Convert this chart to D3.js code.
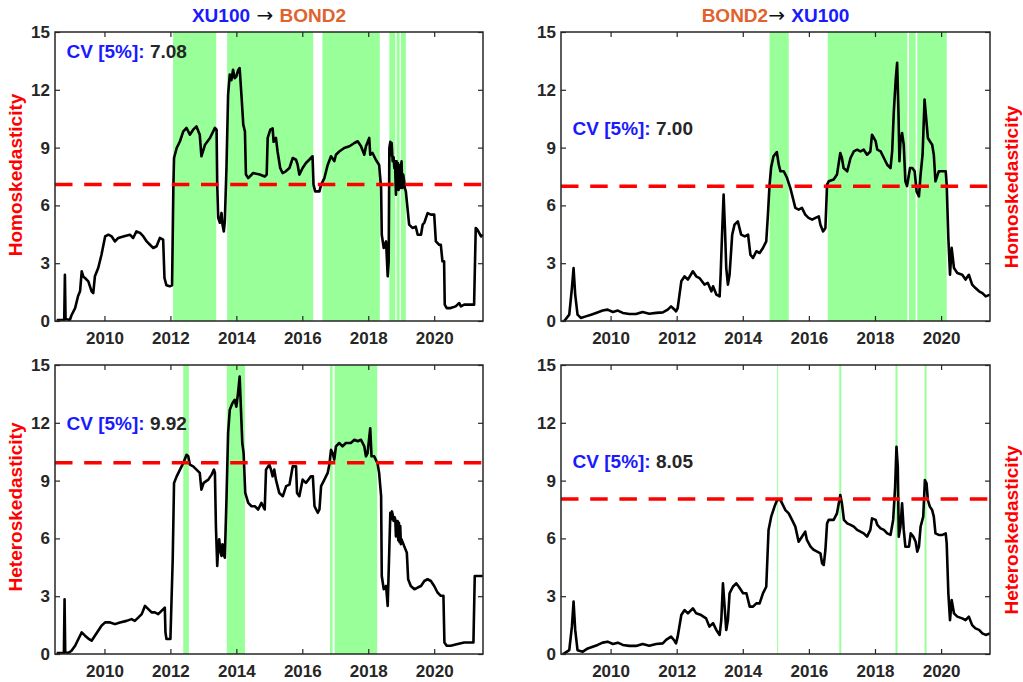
<!DOCTYPE html>
<html>
<head>
<meta charset="utf-8">
<script src="https://cdn.jsdelivr.net/npm/d3@7"></script>
<style>
  body { margin: 0; background: #fff; }
  svg text { font-family: "Liberation Sans", Arial, Helvetica, sans-serif; font-weight: bold; }
</style>
</head>
<body>
<svg id="chart" width="1023" height="682"></svg>
<script>
// ---- Test statistic paths (x: decimal year, y: statistic) ----

// Homoskedastic statistic, XU100 -> BOND2
const homoXuBondYears = [2008.55,2008.78,2008.80,2008.82,2008.95,2009.0,2009.11,2009.2,2009.26,2009.31,2009.36,2009.41,2009.51,2009.61,2009.66,2009.71,2009.81,2009.91,2010.02,2010.12,2010.22,2010.32,2010.42,2010.57,2010.77,2010.87,2010.97,2011.08,2011.18,2011.28,2011.38,2011.48,2011.58,2011.68,2011.78,2011.82,2011.88,2011.98,2012.05,2012.09,2012.11,2012.19,2012.29,2012.39,2012.49,2012.59,2012.69,2012.79,2012.89,2012.94,2013.05,2013.2,2013.35,2013.4,2013.42,2013.45,2013.5,2013.55,2013.58,2013.62,2013.65,2013.7,2013.75,2013.8,2013.85,2013.9,2013.95,2014.0,2014.05,2014.1,2014.16,2014.21,2014.26,2014.29,2014.36,2014.51,2014.71,2014.86,2014.92,2014.95,2015.03,2015.1,2015.13,2015.2,2015.25,2015.33,2015.4,2015.5,2015.61,2015.71,2015.81,2015.86,2015.91,2016.01,2016.11,2016.21,2016.31,2016.34,2016.39,2016.52,2016.57,2016.67,2016.77,2016.87,2016.97,2017.02,2017.12,2017.27,2017.43,2017.58,2017.68,2017.78,2017.88,2017.93,2018.03,2018.06,2018.13,2018.23,2018.33,2018.39,2018.41,2018.47,2018.54,2018.59,2018.62,2018.64,2018.67,2018.69,2018.71,2018.74,2018.77,2018.79,2018.81,2018.84,2018.86,2018.88,2018.9,2018.92,2018.94,2018.97,2018.99,2019.01,2019.03,2019.04,2019.06,2019.09,2019.11,2019.14,2019.19,2019.24,2019.34,2019.44,2019.5,2019.6,2019.65,2019.7,2019.8,2019.9,2020.0,2020.05,2020.15,2020.2,2020.25,2020.3,2020.32,2020.38,2020.5,2020.65,2020.76,2020.81,2020.91,2021.16,2021.21,2021.26,2021.31,2021.42,2021.48];
const homoXuBondValues = [0.05,0.05,2.4,0.1,0.05,0.3,0.67,1.3,1.54,2.58,2.3,2.23,2.06,1.54,1.45,2.32,2.75,3.44,4.39,4.48,4.39,4.13,4.31,4.39,4.48,4.31,4.65,4.57,4.39,4.13,3.96,3.79,3.88,4.31,4.22,2.23,1.85,1.8,1.85,7.0,8.46,8.98,9.33,9.84,10.02,9.67,9.93,10.1,9.67,8.55,9.15,9.5,10.02,9.93,7.08,5.35,5.1,5.61,5.0,4.65,5.17,7.94,11.75,12.79,12.5,13.04,12.6,12.7,13.0,13.13,11.57,10.19,9.84,7.6,7.42,7.68,7.6,7.5,7.6,9.5,9.93,10.0,9.3,9.5,8.8,7.94,7.68,7.77,7.94,8.46,8.37,8.1,7.6,7.94,8.2,8.37,8.55,7.08,6.73,6.73,7.08,7.42,8.1,8.55,8.3,8.63,8.8,8.98,9.07,9.24,9.33,9.07,8.63,9.07,9.5,8.63,8.72,8.37,8.1,6.9,4.48,3.79,4.13,2.32,3.1,8.98,9.3,8.6,9.24,8.29,8.5,7.94,8.3,6.56,8.29,7.0,8.2,6.8,8.1,6.9,8.0,8.29,6.9,7.08,7.6,7.25,6.9,6.73,5.87,5.0,4.83,4.9,4.48,4.48,5.0,5.1,5.6,5.52,5.52,4.13,3.96,3.96,3.1,3.1,0.85,0.67,0.67,0.76,0.93,0.76,0.85,0.85,0.85,4.83,4.74,4.39,4.48];

// Homoskedastic statistic, BOND2 -> XU100
const homoBondXuYears = [2008.55,2008.6,2008.75,2008.83,2008.88,2008.93,2009.0,2009.1,2009.25,2009.41,2009.56,2009.76,2009.91,2010.07,2010.22,2010.37,2010.57,2010.77,2010.97,2011.17,2011.38,2011.58,2011.73,2011.83,2011.93,2011.98,2012.03,2012.14,2012.24,2012.34,2012.49,2012.59,2012.69,2012.84,2012.94,2013.05,2013.1,2013.2,2013.3,2013.33,2013.38,2013.42,2013.46,2013.5,2013.55,2013.6,2013.68,2013.75,2013.85,2013.95,2014.06,2014.16,2014.23,2014.31,2014.41,2014.51,2014.61,2014.71,2014.76,2014.81,2014.86,2014.93,2015.03,2015.09,2015.14,2015.24,2015.34,2015.44,2015.49,2015.59,2015.69,2015.79,2015.89,2015.99,2016.1,2016.2,2016.3,2016.35,2016.43,2016.5,2016.55,2016.6,2016.75,2016.85,2016.95,2017.0,2017.05,2017.16,2017.26,2017.36,2017.46,2017.56,2017.66,2017.76,2017.86,2017.91,2018.02,2018.07,2018.17,2018.27,2018.37,2018.47,2018.52,2018.57,2018.63,2018.67,2018.71,2018.74,2018.77,2018.82,2018.87,2018.92,2018.97,2019.06,2019.13,2019.2,2019.26,2019.33,2019.38,2019.44,2019.5,2019.54,2019.6,2019.66,2019.73,2019.78,2019.83,2019.93,2020.04,2020.14,2020.17,2020.22,2020.27,2020.32,2020.39,2020.49,2020.64,2020.74,2020.84,2020.94,2021.04,2021.15,2021.25,2021.35,2021.48];
const homoBondXuValues = [0.0,0.0,0.33,1.7,2.75,1.37,0.33,0.16,0.24,0.33,0.42,0.54,0.59,0.47,0.54,0.42,0.36,0.36,0.47,0.38,0.42,0.45,0.59,0.76,0.6,0.5,0.67,2.06,2.32,2.15,2.58,2.32,2.23,1.89,1.98,1.54,1.8,1.37,1.28,2.4,4.83,6.56,4.83,2.75,1.89,2.4,4.48,5.0,5.17,4.48,4.39,4.48,3.44,3.27,3.62,3.53,3.79,4.13,5.5,7.08,8.0,8.55,8.77,8.1,7.77,7.77,7.42,6.9,6.56,5.87,5.78,5.87,5.52,5.35,5.26,5.35,5.43,5.0,4.65,4.83,7.08,7.25,7.34,7.6,8.72,8.46,7.94,7.77,8.46,8.8,8.89,8.8,8.89,8.63,8.8,9.67,9.33,8.89,8.8,8.46,8.11,7.94,8.8,10.88,12.6,13.4,10.88,8.29,9.33,9.76,9.15,7.25,7.0,7.94,7.94,7.77,6.73,6.47,7.6,8.63,11.49,10.7,9.5,9.33,9.15,8.63,7.25,7.77,7.77,7.77,7.08,4.3,2.4,3.8,2.75,2.49,2.4,2.15,2.4,1.89,1.71,1.54,1.45,1.28,1.37];

// Heteroskedastic statistic, XU100 -> BOND2
const heteroXuBondYears = [2008.55,2008.77,2008.79,2008.81,2008.9,2009.0,2009.11,2009.21,2009.31,2009.41,2009.51,2009.61,2009.71,2009.81,2009.91,2010.02,2010.17,2010.32,2010.47,2010.67,2010.82,2010.92,2011.03,2011.13,2011.23,2011.33,2011.43,2011.53,2011.63,2011.73,2011.83,2011.85,2011.88,2012.0,2012.07,2012.11,2012.19,2012.29,2012.39,2012.49,2012.54,2012.59,2012.69,2012.79,2012.89,2012.94,2013.01,2013.15,2013.25,2013.32,2013.35,2013.38,2013.42,2013.45,2013.48,2013.52,2013.55,2013.58,2013.6,2013.63,2013.65,2013.7,2013.75,2013.8,2013.88,2013.95,2014.0,2014.05,2014.1,2014.14,2014.18,2014.22,2014.27,2014.36,2014.46,2014.56,2014.66,2014.76,2014.86,2014.9,2015.0,2015.05,2015.1,2015.15,2015.2,2015.3,2015.41,2015.51,2015.61,2015.71,2015.81,2015.84,2015.91,2016.01,2016.11,2016.26,2016.32,2016.37,2016.47,2016.52,2016.57,2016.67,2016.77,2016.82,2016.87,2016.92,2016.97,2017.02,2017.12,2017.22,2017.32,2017.47,2017.58,2017.68,2017.78,2017.88,2017.93,2017.98,2018.06,2018.1,2018.18,2018.28,2018.33,2018.39,2018.41,2018.47,2018.54,2018.59,2018.63,2018.67,2018.7,2018.72,2018.74,2018.77,2018.8,2018.82,2018.84,2018.87,2018.89,2018.91,2018.93,2018.95,2018.97,2018.99,2019.01,2019.09,2019.17,2019.21,2019.29,2019.4,2019.5,2019.6,2019.7,2019.8,2019.9,2020.0,2020.1,2020.2,2020.28,2020.31,2020.38,2020.5,2020.71,2020.91,2021.11,2021.19,2021.23,2021.48];
const heteroXuBondValues = [0.05,0.05,2.84,0.1,0.05,0.17,0.43,0.78,1.12,0.95,0.8,0.69,0.95,1.21,1.47,1.64,1.64,1.55,1.64,1.72,1.81,1.72,1.9,2.07,2.5,2.33,2.16,2.16,2.07,2.24,2.41,1.12,0.78,0.78,4.91,8.88,9.22,9.57,9.91,10.34,10.26,9.83,9.74,9.57,9.4,8.53,8.88,9.05,9.31,9.57,9.4,6.64,4.57,5.5,5.95,5.3,5.09,5.7,5.6,5.1,5.0,8.02,11.47,12.67,13.02,13.19,12.84,13.53,14.4,12.67,10.95,10.43,8.36,7.84,7.67,7.67,7.5,7.84,7.5,9.57,9.83,9.57,9.22,9.57,9.05,8.36,8.19,8.71,8.79,9.74,9.74,8.36,8.19,9.05,8.88,9.22,9.22,7.67,7.33,7.5,8.71,9.05,9.4,9.83,10.6,10.43,10.09,10.78,10.95,10.78,10.95,10.95,11.12,11.04,11.12,10.78,10.26,10.43,11.72,10.26,10.26,9.91,9.4,8.19,4.05,3.36,3.53,2.5,4.91,7.33,7.0,7.4,7.24,6.9,7.1,6.98,6.1,6.29,6.9,5.9,6.81,5.8,6.64,5.7,5.95,5.6,5.26,3.88,3.53,3.36,3.45,3.53,3.79,3.88,3.79,3.53,3.19,3.02,3.02,0.6,0.43,0.43,0.52,0.6,0.6,0.6,4.05,4.05];

// Heteroskedastic statistic, BOND2 -> XU100
const heteroBondXuYears = [2008.55,2008.6,2008.75,2008.83,2008.88,2008.93,2009.0,2009.16,2009.31,2009.46,2009.61,2009.76,2009.91,2010.07,2010.22,2010.37,2010.57,2010.77,2010.97,2011.17,2011.38,2011.58,2011.68,2011.83,2011.93,2011.98,2012.03,2012.14,2012.24,2012.34,2012.49,2012.59,2012.74,2012.89,2012.99,2013.1,2013.2,2013.3,2013.35,2013.4,2013.45,2013.5,2013.55,2013.6,2013.7,2013.8,2013.88,2014.01,2014.11,2014.21,2014.31,2014.41,2014.51,2014.61,2014.71,2014.78,2014.86,2014.96,2015.04,2015.14,2015.19,2015.29,2015.39,2015.49,2015.59,2015.69,2015.79,2015.89,2015.94,2016.05,2016.15,2016.25,2016.35,2016.4,2016.45,2016.5,2016.55,2016.6,2016.75,2016.85,2016.95,2017.0,2017.06,2017.16,2017.26,2017.36,2017.46,2017.56,2017.66,2017.76,2017.86,2017.91,2018.02,2018.07,2018.17,2018.27,2018.37,2018.47,2018.55,2018.61,2018.65,2018.69,2018.72,2018.77,2018.82,2018.87,2018.92,2019.03,2019.08,2019.16,2019.23,2019.28,2019.33,2019.38,2019.46,2019.51,2019.56,2019.6,2019.66,2019.73,2019.78,2019.83,2019.93,2020.04,2020.14,2020.17,2020.22,2020.27,2020.32,2020.39,2020.49,2020.64,2020.74,2020.84,2020.94,2021.04,2021.15,2021.25,2021.35,2021.48];
const heteroBondXuValues = [0.0,0.03,0.2,1.42,2.72,1.25,0.2,0.12,0.29,0.38,0.47,0.59,0.64,0.52,0.59,0.47,0.42,0.42,0.52,0.43,0.52,0.55,0.73,0.9,0.7,0.55,0.9,2.02,2.28,2.11,2.37,2.11,2.02,1.85,1.42,1.6,1.25,0.99,1.76,3.67,2.46,1.25,1.76,3.15,3.49,3.67,3.49,3.15,3.15,2.46,2.46,2.63,2.63,3.15,3.49,6.44,7.13,7.65,7.99,7.99,7.82,7.47,7.3,6.96,6.61,5.83,6.09,6.35,5.92,5.57,5.4,5.31,5.22,4.71,4.62,5.4,6.78,6.96,6.96,7.3,8.25,7.82,6.96,6.78,6.7,6.61,6.44,6.35,6.26,6.09,6.44,7.04,6.96,6.7,6.52,6.44,6.26,6.18,6.96,8.69,10.76,9.72,6.09,6.61,7.82,6.44,5.57,5.57,6.26,6.09,5.83,5.31,5.57,6.61,7.13,9.03,8.86,7.99,7.65,7.47,7.13,6.26,6.18,6.18,6.26,5.74,3.15,1.76,2.8,2.11,1.94,1.85,1.76,1.94,1.5,1.33,1.25,1.07,0.99,1.07];

// ---- Critical values (5%) ----
const criticalValues = [7.08, 7.00, 9.92, 8.05];

// ---- Periods where the statistic exceeds its critical value [start, end] ----
const bandsHomoXuBond = [[2012.08,2013.39],[2013.72,2016.33],[2016.61,2018.35],[2018.64,2018.82],[2018.86,2018.95],[2018.99,2019.14]];
const bandsHomoBondXu = [[2014.81,2015.39],[2016.57,2018.98],[2019.03,2019.23],[2019.28,2020.17]];
const bandsHeteroXuBond = [[2012.39,2012.56],[2013.71,2014.26],[2016.84,2016.92],[2016.98,2018.27]];
const bandsHeteroBondXu = [[2015.04,2015.07],[2016.92,2016.98],[2018.62,2018.68],[2019.50,2019.56]];

// ---- Axis ticks and labels ----
const xTicks = [2010, 2012, 2014, 2016, 2018, 2020];
const yTicks = [0, 3, 6, 9, 12, 15];
const xDomain = [2008.5, 2021.48];
const yDomain = [0, 15];
const yLabels = ["Homoskedasticity", "Homoskedasticity", "Heteroskedasticity", "Heteroskedasticity"];
const titles = [
  [{ t: "XU100", c: "#1a1aff" }, { t: " \u2192 ", c: "#111", arrow: true }, { t: "BOND2", c: "#e0622c" }],
  [{ t: "BOND2", c: "#e0622c" }, { t: "\u2192 ", c: "#111", arrow: true }, { t: "XU100", c: "#1a1aff" }]
];

// ---- Layout ----
const BLUE = "#1a1aff", AXIS = "#262626", GREEN = "#99ff99", RED = "#ff0000";
const panels = [
  { years: homoXuBondYears, values: homoXuBondValues, cv: criticalValues[0], bands: bandsHomoXuBond,
    box: { l: 55, r: 483, t: 32, b: 321 }, label: yLabels[0], labelPos: [15.5, 175], cvAt: 14, title: titles[0] },
  { years: homoBondXuYears, values: homoBondXuValues, cv: criticalValues[1], bands: bandsHomoBondXu,
    box: { l: 561, r: 990, t: 32, b: 321 }, label: yLabels[1], labelPos: [1011.5, 187], cvAt: 10, title: titles[1] },
  { years: heteroXuBondYears, values: heteroXuBondValues, cv: criticalValues[2], bands: bandsHeteroXuBond,
    box: { l: 55, r: 483, t: 365, b: 654 }, label: yLabels[2], labelPos: [15.5, 507], cvAt: 12, title: null },
  { years: heteroBondXuYears, values: heteroBondXuValues, cv: criticalValues[3], bands: bandsHeteroBondXu,
    box: { l: 561, r: 990, t: 365, b: 654 }, label: yLabels[3], labelPos: [1011.5, 530], cvAt: 10, title: null }
];

const svg = d3.select("#chart");

panels.forEach((p, i) => {
  const { l, r, t, b } = p.box;
  const x = d3.scaleLinear().domain(xDomain).range([l, r]);
  const y = d3.scaleLinear().domain(yDomain).range([b, t]);
  const g = svg.append("g").attr("class", "panel-" + i);

  const clipId = "clip-" + i;
  g.append("clipPath").attr("id", clipId)
    .append("rect").attr("x", l).attr("y", t).attr("width", r - l).attr("height", b - t);

  // shaded rejection periods
  g.append("g").attr("clip-path", `url(#${clipId})`)
    .selectAll("rect").data(p.bands).join("rect")
    .attr("x", d => x(d[0]))
    .attr("width", d => Math.max(0.5, x(d[1]) - x(d[0])))
    .attr("y", y(yDomain[1]))
    .attr("height", y(yDomain[0]) - y(yDomain[1]))
    .attr("fill", GREEN);

  // statistic path
  const pts = p.years.map((yr, k) => [yr, p.values[k]]);
  const line = d3.line().x(d => x(d[0])).y(d => y(d[1]));
  g.append("path").datum(pts)
    .attr("clip-path", `url(#${clipId})`)
    .attr("d", line)
    .attr("fill", "none")
    .attr("stroke", "#000")
    .attr("stroke-width", 2.6)
    .attr("stroke-linejoin", "round");

  // critical value line
  g.append("line")
    .attr("x1", x(xDomain[0])).attr("x2", x(xDomain[1]))
    .attr("y1", y(p.cv)).attr("y2", y(p.cv))
    .attr("stroke", RED).attr("stroke-width", 3.5)
    .attr("stroke-dasharray", "17.5,11.7");

  // axes with inward ticks on all four sides
  const styleAxis = sel => {
    sel.select(".domain").remove();
    sel.selectAll(".tick line").attr("stroke", AXIS).attr("stroke-width", 1.2);
    sel.selectAll(".tick text").attr("fill", AXIS).style("font-size", "17px")
      .style("font-family", '"Liberation Sans", Arial, sans-serif').style("font-weight", "bold");
  };
  g.append("g").attr("transform", `translate(${l},0)`)
    .call(d3.axisLeft(y).tickValues(yTicks).tickSizeInner(-5).tickSizeOuter(0).tickPadding(5))
    .call(styleAxis);
  g.append("g").attr("transform", `translate(${r},0)`)
    .call(d3.axisRight(y).tickValues(yTicks).tickSizeInner(-5).tickSizeOuter(0).tickFormat(""))
    .call(styleAxis);
  g.append("g").attr("transform", `translate(0,${b})`)
    .call(d3.axisBottom(x).tickValues(xTicks).tickSizeInner(-5).tickSizeOuter(0).tickPadding(11).tickFormat(d3.format("d")))
    .call(styleAxis);
  g.append("g").attr("transform", `translate(0,${t})`)
    .call(d3.axisTop(x).tickValues(xTicks).tickSizeInner(-5).tickSizeOuter(0).tickFormat(""))
    .call(styleAxis);

  // axes box
  g.append("rect")
    .attr("x", l).attr("y", t).attr("width", r - l).attr("height", b - t)
    .attr("fill", "none").attr("stroke", AXIS).attr("stroke-width", 1.5);

  // critical value annotation
  const cvText = g.append("text")
    .attr("x", x(2008.85)).attr("y", y(p.cvAt)).attr("dy", "0.36em")
    .style("font-size", "19px");
  cvText.append("tspan").attr("fill", BLUE).text("CV [5%]:");
  cvText.append("tspan").attr("fill", AXIS).text(" " + p.cv.toFixed(2));

  // y label
  g.append("text")
    .attr("transform", `translate(${p.labelPos[0]},${p.labelPos[1]}) rotate(-90)`)
    .attr("text-anchor", "middle").attr("dy", "0.36em")
    .attr("fill", RED).style("font-size", "19px")
    .text(p.label);

  // panel title
  if (p.title) {
    const tt = g.append("text")
      .attr("x", (l + r) / 2).attr("y", 22)
      .attr("text-anchor", "middle").style("font-size", "19px");
    p.title.forEach(s => {
      const span = tt.append("tspan").attr("fill", s.c).text(s.t);
      if (s.arrow) {
        span.style("font-family", '"DejaVu Sans", sans-serif')
          .style("font-weight", "normal").style("font-size", "20px");
      }
    });
  }
});
</script>
</body>
</html>
